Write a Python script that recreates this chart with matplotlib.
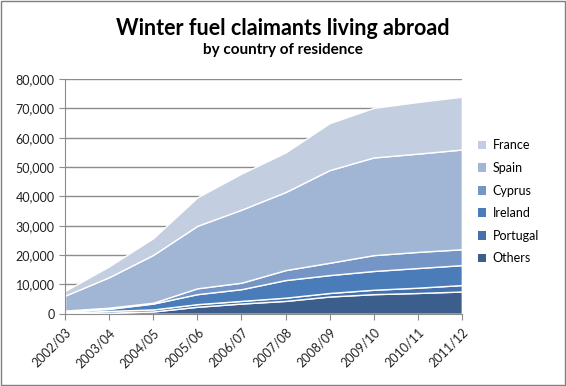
import matplotlib.pyplot as plt
from matplotlib.patches import Patch, Rectangle

plt.rcParams['font.family'] = ['Lato', 'DejaVu Sans']

# claimants by country
years = ['2002/03', '2003/04', '2004/05', '2005/06', '2006/07',
         '2007/08', '2008/09', '2009/10', '2010/11', '2011/12']
others = [150, 400, 800, 2400, 3500, 4400, 5900, 6700, 7100, 7600]
portugal = [300, 600, 700, 900, 900, 1100, 1200, 1500, 1800, 2200]
ireland = [350, 700, 2000, 3400, 4000, 6000, 6100, 6400, 6700, 6800]
cyprus = [300, 400, 300, 2000, 2200, 3400, 4200, 5400, 5500, 5400]
spain = [5100, 10400, 16300, 21300, 24900, 26600, 31600, 33300, 33500, 34000]
france = [1600, 3700, 5700, 9700, 12300, 13500, 16000, 16900, 17600, 18000]

names = ['Others', 'Portugal', 'Ireland', 'Cyprus', 'Spain', 'France']
colors = ['#3C5E8C', '#4471AB', '#4A7CBA', '#7595C6', '#A1B5D5', '#C4CEE1']

fig = plt.figure(figsize=(5.66, 3.86), dpi=100)
ax = fig.add_axes([0.115, 0.187, 0.701, 0.608])

x = list(range(len(years)))
ax.stackplot(x, others, portugal, ireland, cyprus, spain, france,
             colors=colors, edgecolor='white', linewidth=1.0, zorder=2)

ax.set_xlim(0, len(years) - 1)
ax.set_ylim(0, 80000)
ax.set_yticks(range(0, 80001, 10000))
ax.set_yticklabels([f'{v:,}' for v in range(0, 80001, 10000)])
ax.set_xticks(x)
ax.set_xticklabels(years, rotation=45, ha='right', rotation_mode='anchor')
ax.yaxis.grid(True, color='#8C8C8C', linewidth=1, zorder=0)
ax.set_axisbelow(True)

for s in ['top', 'right']:
    ax.spines[s].set_visible(False)
for s in ['left', 'bottom']:
    ax.spines[s].set_color('#8C8C8C')
ax.tick_params(axis='both', colors='#8C8C8C', labelcolor='#222222',
               labelsize=9, length=4, direction='out')
ax.tick_params(axis='x', pad=5)

fig.text(0.5, 0.927, 'Winter fuel claimants living abroad',
         ha='center', va='center', fontsize=15.5, fontweight='bold')
fig.text(0.5, 0.87, 'by country of residence',
         ha='center', va='center', fontsize=11, fontweight='bold')

handles = [Patch(facecolor=c) for c in colors][::-1]
fig.legend(handles, names[::-1], loc='upper left', bbox_to_anchor=(0.835, 0.652),
           frameon=False, fontsize=9, handlelength=0.7, handleheight=0.7,
           handletextpad=0.5, labelspacing=0.85, borderaxespad=0)

fig.patches.append(Rectangle((0.001, 0.002), 0.997, 0.996, transform=fig.transFigure,
                             fill=False, edgecolor='#7F7F7F', linewidth=1))

plt.savefig('out.png', dpi=100)
